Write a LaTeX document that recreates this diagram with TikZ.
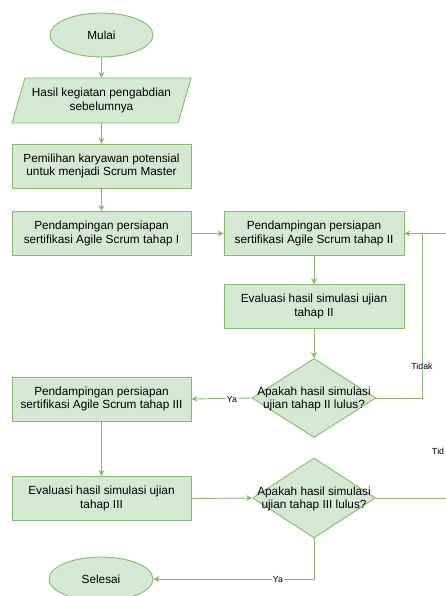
\documentclass[tikz,border=0pt]{standalone}
\usepackage{fontspec}
\setmainfont{Liberation Sans}
\usetikzlibrary{shapes.geometric,arrows.meta}
\definecolor{gfill}{HTML}{D5E8D4}
\definecolor{gline}{HTML}{88BA6C}
\begin{document}
\begin{tikzpicture}[x=1pt,y=-1pt,
  txt/.style={align=center,font=\fontsize{11.8}{13.6}\selectfont,inner sep=0pt},
  base/.style={txt,fill=gfill,draw=gline,line width=0.9pt},
  procbox/.style={base,rectangle,minimum width=179pt,minimum height=44pt},
  term/.style={base,ellipse,minimum width=103pt,minimum height=44pt},
  decide/.style={fill=gfill,draw=gline,line width=0.9pt,diamond,inner sep=0pt},
  lbl/.style={font=\fontsize{8.8}{10}\selectfont,fill=white,inner sep=1pt},
  conn/.style={draw=gline,line width=0.9pt,-{Stealth[length=6pt,width=6pt,inset=2pt]}},
  plain/.style={draw=gline,line width=0.9pt}
]
\useasboundingbox (0,0) rectangle (446,596);
% nodes
\node[term] (mulai) at (101.5,35) {Mulai};
\fill[gfill,draw=gline,line width=0.9pt] (25,78) -- (191,78) -- (178,123) -- (12,123) -- cycle;
\node[txt,minimum width=166pt,minimum height=45pt] (hasil) at (101.5,100.5) {Hasil kegiatan pengabdian\\sebelumnya};
\node[procbox] (p1) at (101.5,166) {Pemilihan karyawan potensial\\untuk menjadi Scrum Master};
\node[procbox] (p2) at (101.5,233.5) {Pendampingan persiapan\\sertifikasi Agile Scrum tahap I};
\node[procbox,minimum width=180pt] (b2) at (314,233.5) {Pendampingan persiapan\\sertifikasi Agile Scrum tahap II};
\node[procbox,minimum width=180pt] (e2) at (314,306.5) {Evaluasi hasil simulasi ujian\\tahap II};
\node[decide,minimum width=124pt,minimum height=79pt] (d2) at (314,398) {};
\node[txt] (d2t) at (314,399) {Apakah hasil simulasi\\ujian tahap II lulus?};
\node[procbox] (b3) at (101.5,399) {Pendampingan persiapan\\sertifikasi Agile Scrum tahap III};
\node[procbox] (e3) at (101.5,498.5) {Evaluasi hasil simulasi ujian\\tahap III};
\node[decide,minimum width=123pt,minimum height=80pt] (d3) at (314,498) {};
\node[txt] (d3t) at (314,499) {Apakah hasil simulasi\\ujian tahap III lulus?};
\node[term,minimum width=104pt] (selesai) at (101,579) {Selesai};
% coordinates
\coordinate (tk) at (422,233.5);
\coordinate (rt) at (446.5,233.5);
\coordinate (rt3) at (446.5,498);
% connectors
\draw[conn] (mulai.south) -- (hasil.north);
\draw[conn] (hasil.south) -- (p1.north);
\draw[conn] (p1.south) -- (p2.north);
\draw[conn] (p2.east) -- (b2.west);
\draw[conn] (b2.south) -- (e2.north);
\draw[conn] (e2.south) -- (d2.north);
\draw[conn] (d2.west) -- (b3.east);
\draw[conn] (d2.east) -| (tk) -- (b2.east);
\draw[plain] (rt) -- (tk);
\draw[conn] (b3.south) -- (e3.north);
\draw[conn] (e3.east) -- (d3.west);
\draw[plain] (d3.east) -- (rt3);
\draw[conn] (d3.south) |- (selesai.east);
% labels
\node[lbl] (ya1) at (232,399.5) {Ya};
\node[lbl] (tidak1) at (422,366) {Tidak};
\node[lbl,fill=none,anchor=west,inner sep=0pt] (tid) at (432,451) {Tid};
\node[lbl] (ya2) at (278,579.5) {Ya};
\end{tikzpicture}
\end{document}
